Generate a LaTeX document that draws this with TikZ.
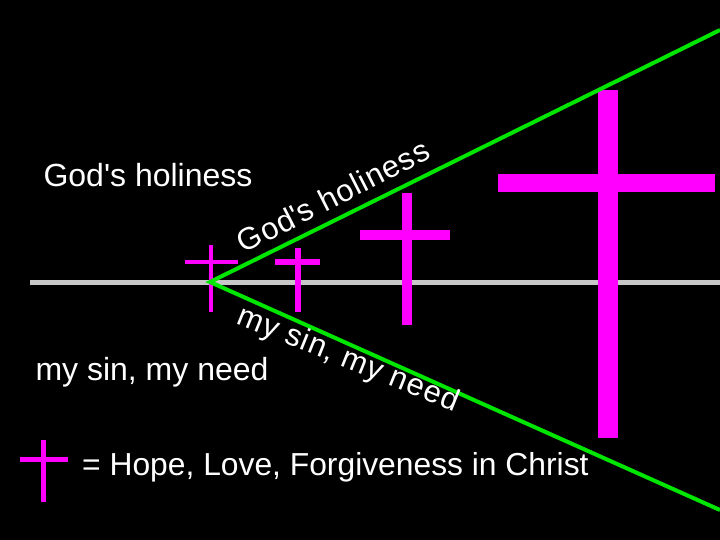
\documentclass[tikz,border=0pt]{standalone}
\usepackage{fontspec}
\setmainfont{Liberation Sans}
\definecolor{mag}{RGB}{255,0,255}
\definecolor{grn}{RGB}{0,230,0}
\definecolor{gry}{RGB}{200,200,200}
\begin{document}
\begin{tikzpicture}[x=1pt,y=-1pt,
  txt/.style={text=white,font=\fontsize{32}{36}\selectfont,inner sep=0pt},
  rtxt/.style={text=white,font=\fontsize{31}{34}\selectfont\addfontfeatures{LetterSpace=3},inner sep=0pt},
  bar/.style={fill=mag,draw=none}]
\fill[black] (0,0) rectangle (720,540);
\useasboundingbox (0,0) rectangle (720,540);
\coordinate (gl) at (30,282); \coordinate (gr) at (720,282);
\draw[gry,line width=5pt] (gl) -- (gr);
% crosses
\fill[bar] (209,245) rectangle (213,312); \fill[bar] (185,260) rectangle (238,264);
\fill[bar] (295,248) rectangle (301,312); \fill[bar] (275,259) rectangle (320,265);
\fill[bar] (402,193) rectangle (412,325); \fill[bar] (360,230) rectangle (450,240);
\fill[bar] (598,90) rectangle (618,438); \fill[bar] (498,174) rectangle (715,192);
\fill[bar] (41,440) rectangle (46,502); \fill[bar] (20,457) rectangle (68,462);
\coordinate (v) at (210,282); \coordinate (ue) at (720,30); \coordinate (le) at (720,510);
\draw[grn,line width=4pt] (ue) -- (v) -- (le);
\node[txt] (t1) at (148,175) {God\textquotesingle s holiness};
\node[txt] (t2) at (152,372) {my sin, my need};
\node[txt,anchor=west,font=\fontsize{31.8}{35}\selectfont] (t3) at (82,467) {= Hope, Love, Forgiveness in Christ};
\node[rtxt,rotate=27] (r1) at (333,196) {God\textquotesingle s holiness};
\node[rtxt,rotate=-22] (r2) at (348,360) {my sin, my need};
\end{tikzpicture}
\end{document}
